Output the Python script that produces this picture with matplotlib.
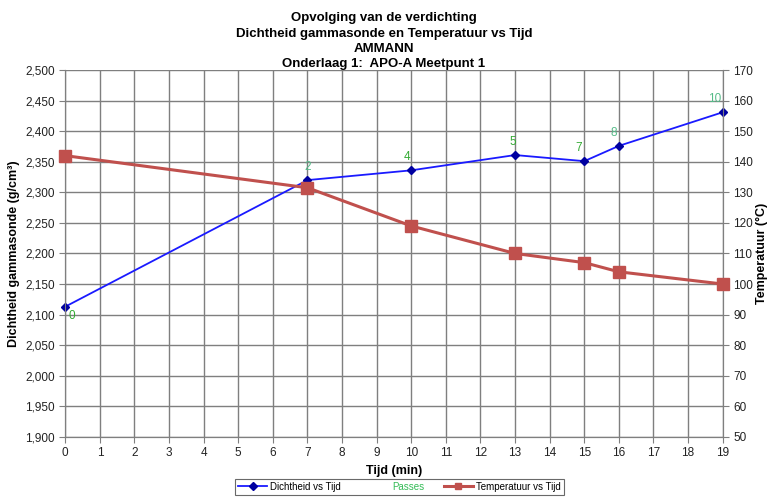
import matplotlib.pyplot as plt
from matplotlib.lines import Line2D

plt.rcParams['font.family'] = ['Liberation Sans', 'DejaVu Sans']

tijd = [0, 7, 10, 13, 15, 16, 19]
dichtheid = [2113, 2320, 2336, 2361, 2351, 2376, 2431]
temperatuur = [142, 131.5, 119, 110, 107, 104, 100]
passes = ['0', '2', '4', '5', '7', '8', '10']

# label offsets (points) for the pass numbers
offsets = [(5, -7), (0, 5), (-3, 5), (-2, 5), (-4, 5), (-4, 5), (-6, 5)]
pass_colors = ['#33aa33', '#55bb88', '#33aa33', '#33aa33', '#33aa33', '#55bb88', '#55bb88']

fig = plt.figure(figsize=(7.68, 4.97), dpi=100)
ax = fig.add_axes([0.085, 0.121, 0.856, 0.738])
ax2 = ax.twinx()

ax.set_xlim(0, 19)
ax.set_ylim(1900, 2500)
ax2.set_ylim(50, 170)
ax.set_xticks(range(0, 20))
ax.set_yticks(range(1900, 2501, 50))
ax.set_yticklabels([f'{v:,}' for v in range(1900, 2501, 50)])
ax2.set_yticks(range(50, 171, 10))

ax.grid(True, color='#7f7f7f', lw=1.0)
ax.set_axisbelow(True)
for a in (ax, ax2):
    for s in a.spines.values():
        s.set_color('#7f7f7f')
    a.spines['top'].set_visible(False)
    a.tick_params(labelsize=8.5, colors='#7f7f7f', labelcolor='#222222', length=4)

ax.plot(tijd, dichtheid, color='#1a1aff', lw=1.3, marker='D', ms=4,
        mfc='#0000a0', mec='#0000a0', zorder=3, clip_on=False)
ax2.plot(tijd, temperatuur, color='#c0504d', lw=2.2, marker='s', ms=9,
         mfc='#c0504d', mec='#c0504d', zorder=3, clip_on=False)

for x, y, lab, off, c in zip(tijd, dichtheid, passes, offsets, pass_colors):
    ax.annotate(lab, (x, y), xytext=off, textcoords='offset points',
                ha='center', va='bottom' if off[1] > 0 else 'center',
                fontsize=8.5, color=c, zorder=5)

ax.set_xlabel('Tijd (min)', fontsize=9, fontweight='bold', labelpad=4)
ax.set_ylabel('Dichtheid gammasonde (g/cm³)', fontsize=9, fontweight='bold', labelpad=4)
ax2.set_ylabel('Temperatuur (°C)', fontsize=9, fontweight='bold', labelpad=2)

fig.text(0.5, 0.975, 'Opvolging van de verdichting\nDichtheid gammasonde en Temperatuur vs Tijd\nAMMANN\nOnderlaag 1:  APO-A Meetpunt 1',
         ha='center', va='top', fontsize=9.5, fontweight='bold', linespacing=1.35)

handles = [
    Line2D([], [], color='#1a1aff', lw=1.3, marker='D', ms=4, mfc='#0000a0', mec='#0000a0'),
    Line2D([], [], color='none'),
    Line2D([], [], color='#c0504d', lw=2.2, marker='s', ms=5, mfc='#c0504d', mec='#c0504d'),
]
leg = fig.legend(handles, ['Dichtheid vs Tijd', 'Passes', 'Temperatuur vs Tijd'],
                 loc='lower center', bbox_to_anchor=(0.52, -0.005), ncol=3, fontsize=7,
                 frameon=True, fancybox=False, edgecolor='#444444',
                 handlelength=3, handletextpad=0.3, columnspacing=2.0, borderpad=0.3)
leg.get_frame().set_linewidth(0.8)
leg.get_texts()[1].set_color('#33bb55')

plt.savefig('out.png', dpi=100)
plt.close()
